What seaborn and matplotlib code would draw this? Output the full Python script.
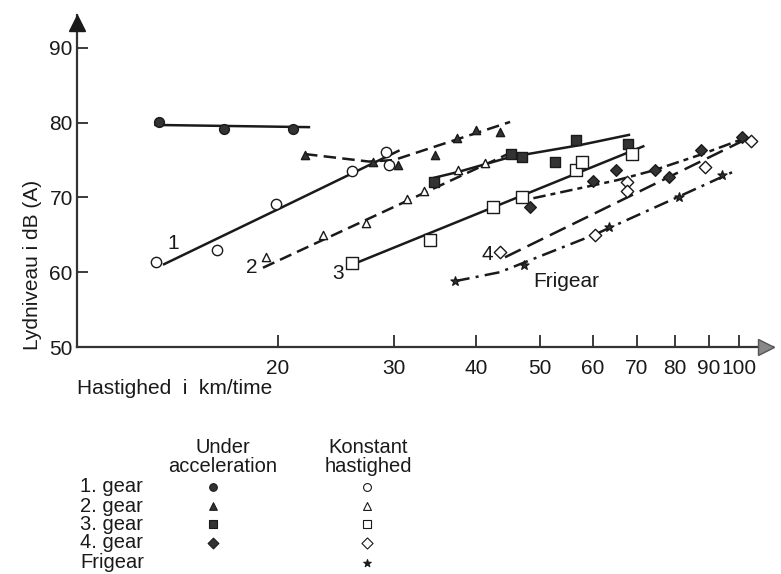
import matplotlib
matplotlib.use("Agg")
import matplotlib.pyplot as plt
import seaborn as sns
from matplotlib.ticker import FixedLocator, FixedFormatter, NullLocator

# ---- measured points: speed (km/h) and noise level dB(A) ----
gear1_acc_speed = [13.2, 16.6, 21.1]
gear1_acc_level = [80.1, 79.2, 79.2]
gear1_const_speed = [13.1, 16.2, 19.9, 25.9, 29.2, 29.5]
gear1_const_level = [61.4, 63.0, 69.1, 73.6, 76.1, 74.4]

gear2_acc_speed = [22.0, 27.9, 30.4, 34.6, 37.4, 39.9, 43.4]
gear2_acc_level = [75.7, 74.8, 74.4, 75.7, 78.0, 79.0, 78.8]
gear2_const_speed = [19.2, 23.4, 27.2, 31.4, 33.3, 37.5, 41.2]
gear2_const_level = [62.1, 65.0, 66.6, 69.8, 70.9, 73.7, 74.6]

gear3_acc_speed = [34.5, 45.1, 46.9, 52.7, 56.6, 67.9]
gear3_acc_level = [72.1, 75.8, 75.4, 74.7, 77.7, 77.2]
gear3_const_speed = [25.9, 34.0, 42.4, 46.9, 56.6, 57.8, 68.9]
gear3_const_level = [61.2, 64.3, 68.7, 70.0, 73.7, 74.8, 75.8]

gear4_acc_speed = [48.2, 60.1, 65.1, 74.6, 78.3, 87.5, 101.0]
gear4_acc_level = [68.7, 72.2, 73.7, 73.7, 72.8, 76.3, 78.1]
gear4_const_speed = [43.5, 60.5, 67.6, 67.6, 88.7, 104.3]
gear4_const_level = [62.7, 65.0, 72.0, 70.9, 74.1, 77.5]

neutral_speed = [37.1, 47.2, 63.5, 81.1, 94.2]
neutral_level = [58.8, 60.9, 66.0, 70.1, 73.0]

# ---- hand-drawn trend curves ----
fit1_acc_speed = [13.0, 22.4]
fit1_acc_level = [79.7, 79.4]
fit1_const_speed = [13.4, 20.0, 30.6]
fit1_const_level = [61.0, 68.4, 76.3]
fit2_acc_speed = [22.0, 27.5, 30.0, 45.0]
fit2_acc_level = [75.8, 74.8, 75.0, 80.1]
fit2_const_speed = [19.0, 45.4]
fit2_const_level = [60.6, 76.1]
fit3_acc_speed = [34.4, 37.5, 45.0, 57.4, 68.4]
fit3_acc_level = [72.6, 73.4, 75.4, 77.0, 78.4]
fit3_const_speed = [25.9, 71.9]
fit3_const_level = [61.0, 76.9]
fit4_acc_speed = [48.8, 65.3, 74.1, 87.3, 100.5]
fit4_acc_level = [69.9, 72.3, 73.6, 75.7, 77.7]
fit4_const_speed = [44.2, 101.5]
fit4_const_level = [62.0, 77.6]
fitN_speed = [37.1, 43.4, 60.3, 81.0, 97.8]
fitN_level = [58.8, 60.0, 65.0, 70.1, 73.4]

x_ticks = [20, 30, 40, 50, 60, 70, 80, 90, 100]
y_ticks = [50, 60, 70, 80, 90]

sns.set_theme(style="ticks")
plt.rcParams["font.family"] = ["Liberation Sans", "DejaVu Sans"]

W, H = 781, 574
fig = plt.figure(figsize=(W / 100, H / 100), dpi=100)
x0, x1, y0, y1 = 77, 773, 347, 15
ax = fig.add_axes([x0 / W, 1 - y0 / H, (x1 - x0) / W, (y0 - y1) / H])
ax.set_xscale("log")
ax.set_xlim(9.93, 112.6)
ax.set_ylim(50, 94.4)

ink = "#1a1a1a"
fill = "#333333"
lw = 1.8


def trend(xs, ys, dashes=None):
    sns.lineplot(x=xs, y=ys, ax=ax, color=ink, linewidth=lw, sort=False,
                 estimator=None, zorder=2)
    line = ax.lines[-1]
    if dashes is not None:
        line.set_dashes(dashes)
    line.set_solid_capstyle("butt")


trend(fit1_acc_speed, fit1_acc_level)
trend(fit1_const_speed, fit1_const_level)
trend(fit2_acc_speed, fit2_acc_level, (5, 2.5))
trend(fit2_const_speed, fit2_const_level, (5, 2.5))
trend(fit3_acc_speed, fit3_acc_level)
trend(fit3_const_speed, fit3_const_level)
trend(fit4_acc_speed, fit4_acc_level, (5, 2, 2, 2))
trend(fit4_const_speed, fit4_const_level, (7, 3))
trend(fitN_speed, fitN_level, (6, 2.5, 1.2, 2.5))


def pts(xs, ys, marker, size, filled):
    sns.scatterplot(x=xs, y=ys, ax=ax, marker=marker, s=size,
                    color=fill if filled else "white", edgecolor=ink,
                    linewidth=1.0, zorder=4)


pts(gear1_acc_speed, gear1_acc_level, "o", 50, True)
pts(gear1_const_speed, gear1_const_level, "o", 55, False)
pts(gear2_acc_speed, gear2_acc_level, "^", 35, True)
pts(gear2_const_speed, gear2_const_level, "^", 35, False)
pts(gear3_acc_speed, gear3_acc_level, "s", 60, True)
pts(gear3_const_speed, gear3_const_level, "s", 70, False)
pts(gear4_acc_speed, gear4_acc_level, "D", 35, True)
pts(gear4_const_speed, gear4_const_level, "D", 40, False)
pts(neutral_speed, neutral_level, "*", 45, True)

# curve labels
for txt, xv, yv in [("1", 13.87, 63.9), ("2", 18.3, 60.6), ("3", 24.7, 59.8),
                    ("4", 41.6, 62.4), ("Frigear", 54.8, 58.7)]:
    ax.text(xv, yv, txt, ha="center", va="center", fontsize=15, color=ink)

# axes styling
for side in ("top", "right"):
    ax.spines[side].set_visible(False)
for side in ("left", "bottom"):
    ax.spines[side].set_linewidth(1.6)
    ax.spines[side].set_color("#333333")
ax.xaxis.set_major_locator(FixedLocator(x_ticks))
ax.xaxis.set_major_formatter(FixedFormatter([str(t) for t in x_ticks]))
ax.xaxis.set_minor_locator(NullLocator())
ax.set_yticks(y_ticks)
ax.tick_params(axis="x", direction="in", length=9, width=1.2, pad=9,
               labelsize=15, colors=ink)
ax.tick_params(axis="y", direction="in", length=8, width=1.2, pad=3,
               labelsize=15, colors=ink)
ax.set_xlabel("Hastighed  i  km/time", fontsize=15, color=ink, ha="left", va="center")
ax.xaxis.set_label_coords(0.0, -(388 - y0) / (y0 - y1))
ax.set_ylabel("Lydniveau i dB (A)", fontsize=15, color=ink, va="center", ha="center")
ax.yaxis.set_label_coords((33 - x0) / (x1 - x0), (y0 - 265) / (y0 - y1))

# arrow heads at the ends of both axes
ax.plot([0.99], [0.0], marker=">", markersize=11, color="#888888", mec="#555555",
        transform=ax.transAxes, clip_on=False, zorder=5)
ax.plot([0.0], [0.975], marker="^", markersize=11, color=ink,
        transform=ax.transAxes, clip_on=False, zorder=5)

# symbol key below the chart, laid out in pixel coordinates
key = fig.add_axes([0, 0, 1, 1], facecolor="none")
key.set_xlim(0, W)
key.set_ylim(H, 0)
key.axis("off")
key.text(223, 457, "Under\nacceleration", ha="center", va="center",
         fontsize=14.5, linespacing=0.95, color=ink)
key.text(368, 457, "Konstant\nhastighed", ha="center", va="center",
         fontsize=14.5, linespacing=0.95, color=ink)
rows = ["1. gear", "2. gear", "3. gear", "4. gear", "Frigear"]
row_y = [487, 506, 524, 543, 563]
acc_marks = ["o", "^", "s", "D", None]
const_marks = ["o", "^", "s", "D", "*"]
for lab, yy, ma, mc in zip(rows, row_y, acc_marks, const_marks):
    key.text(80, yy, lab, ha="left", va="center", fontsize=14.5, color=ink)
    if ma:
        key.scatter([213], [yy], marker=ma, s=30, color=fill, edgecolor=ink,
                    linewidth=0.8)
    key.scatter([367], [yy], marker=mc, s=32,
                color=ink if mc == "*" else "white", edgecolor=ink, linewidth=0.8)

fig.savefig("out.png", dpi=100)
